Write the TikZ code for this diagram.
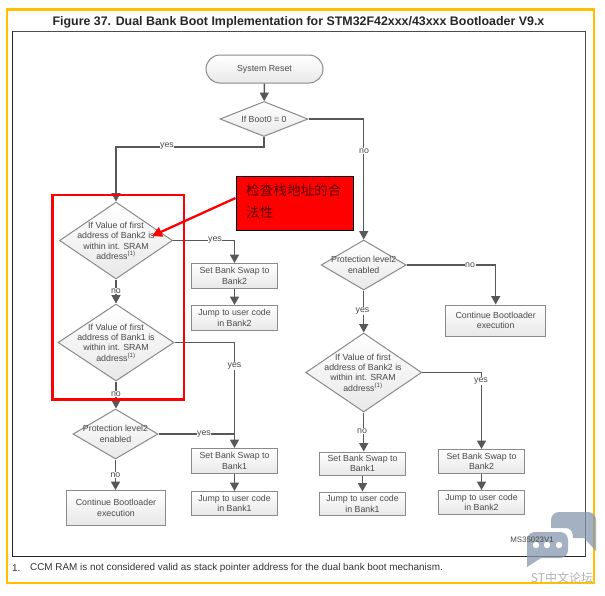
\documentclass[tikz,border=0pt]{standalone}
\usepackage{fontspec}
\setmainfont{Liberation Sans}
\newfontfamily\cjk{Noto Sans CJK SC}
\usetikzlibrary{shapes.geometric,arrows.meta}
\definecolor{linec}{HTML}{585858}
\definecolor{edgec}{HTML}{8A8A8A}
\definecolor{textc}{HTML}{4A4A4A}
\definecolor{framey}{HTML}{FFC000}
\definecolor{wm}{HTML}{8597AE}
\tikzset{
  x=1pt,y=-1pt,
  nodetxt/.style={font=\fontsize{8.8}{10.4}\selectfont,text=textc,align=center},
  shade/.style={top color=white,bottom color=black!9,draw=edgec,line width=1pt},
  flowbox/.style={shade,nodetxt,rectangle,inner sep=0pt},
  flowdia/.style={shade,diamond,inner sep=0pt},
  startbox/.style={shade,nodetxt,rectangle,rounded corners=14pt,inner sep=0pt,minimum width=117pt,minimum height=28pt},
  conn/.style={draw=linec,line width=1.5pt},
  arr/.style={conn,-{Triangle[length=8.5pt,width=9pt]}},
  lab/.style={nodetxt,fill=white,inner sep=0.6pt},
  redline/.style={draw=red,line width=2.4pt},
}
\begin{document}
\begin{tikzpicture}
\useasboundingbox (0,0) rectangle (605,595);
\fill[white] (0,0) rectangle (605,595);
% frames
\draw[framey,line width=2.2pt] (7,9.5) rectangle (594,583);
\draw[black!70,line width=1pt] (12.5,31) -- (585.5,31) -- (585.5,556.7);
\draw[black!85,line width=0.9pt] (12.5,31) -- (12.5,556.7) -- (585.5,556.7);
\node[font=\bfseries\fontsize{12.4}{14}\selectfont,text=black!85] (title) at (298.5,22.3) {Figure 37. Dual Bank Boot Implementation for STM32F42xxx/43xxx Bootloader V9.x};
% nodes
\node[startbox] (reset) at (264.5,69) {System Reset};
\node[flowdia,minimum width=88pt,minimum height=35pt] (boot) at (264,119) {};
\node[flowdia,minimum width=113pt,minimum height=77pt] (d1) at (116,240.5) {};
\node[flowdia,minimum width=116pt,minimum height=77pt] (d2) at (116,342.5) {};
\node[flowdia,minimum width=85pt,minimum height=50pt] (p1) at (115.5,434) {};
\node[flowdia,minimum width=85pt,minimum height=50pt] (p2) at (363.7,265) {};
\node[flowdia,minimum width=116pt,minimum height=79pt] (d3) at (363.7,372.5) {};
\node[flowbox,minimum width=86pt,minimum height=24.5pt] (sw2) at (234.5,275.8) {Set Bank Swap to\\Bank2};
\node[flowbox,minimum width=86pt,minimum height=25pt] (j2) at (234.5,318) {Jump to user code\\in Bank2};
\node[flowbox,minimum width=86pt,minimum height=25pt] (sw1) at (234.5,461) {Set Bank Swap to\\Bank1};
\node[flowbox,minimum width=86pt,minimum height=24pt] (j1) at (234.5,503.5) {Jump to user code\\in Bank1};
\node[flowbox,minimum width=98.5pt,minimum height=34.5pt] (cont1) at (116,507.8) {Continue Bootloader\\execution};
\node[flowbox,minimum width=99.5pt,minimum height=31pt] (cont2) at (495.7,320.5) {Continue Bootloader\\execution};
\node[flowbox,minimum width=86pt,minimum height=23pt] (rsw1) at (362.5,463.5) {Set Bank Swap to\\Bank1};
\node[flowbox,minimum width=86pt,minimum height=23.5pt] (rj1) at (362.5,503.8) {Jump to user code\\in Bank1};
\node[flowbox,minimum width=86pt,minimum height=24pt] (rsw2) at (481.5,461.5) {Set Bank Swap to\\Bank2};
\node[flowbox,minimum width=86pt,minimum height=23.5pt] (rj2) at (481.5,502.3) {Jump to user code\\in Bank2};
% diamond texts
\node[nodetxt] (tboot) at (boot) {If Boot0 = 0};
\node[nodetxt] (td1) at (116,241) {If Value of first\\address of Bank2 is\\within int. SRAM\\address\textsuperscript{(1)}};
\node[nodetxt] (td2) at (116,342.5) {If Value of first\\address of Bank1 is\\within int. SRAM\\address\textsuperscript{(1)}};
\node[nodetxt] (tp1) at (115.5,434) {Protection level2\\enabled};
\node[nodetxt] (tp2) at (363.7,265) {Protection level2\\enabled};
\node[nodetxt] (td3) at (363,372.5) {If Value of first\\address of Bank2 is\\within int. SRAM\\address\textsuperscript{(1)}};
% connectors
\draw[arr] (reset) -- (boot);
\draw[arr] (boot.south) -- ++(0,10) -| (d1.north);
\draw[arr] (boot.east) -| (p2.north);
\draw[arr] (p2.east) -| (cont2.north);
\draw[arr] (p2.south) -- (d3.north);
\draw[arr] (d3.east) -| (rsw2.north);
\draw[arr] (d3.south) -- (rsw1.north -| d3.south);
\draw[arr] (rsw1) -- (rj1);
\draw[arr] (rsw2) -- (rj2);
\draw[arr] (d1.east) -| (sw2.north);
\draw[arr] (sw2) -- (j2);
\draw[arr] (d1.south) -- (d2.north);
\draw[arr] (d2.east) -| (sw1.north);
\draw[arr] (d2.south) -- (p1.north -| d2.south);
\draw[conn] (p1.east) -- (p1.east -| sw1.north);
\draw[arr] (sw1) -- (j1);
\draw[arr] (p1.south) -- (cont1.north -| p1.south);
% connector labels
\node[lab] (l1) at (167,146) {yes};
\node[lab] (l2) at (364,151) {no};
\node[lab] (l3) at (215,240) {yes};
\node[lab] (l4) at (116,291) {no};
\node[lab] (l5) at (234.5,366) {yes};
\node[lab] (l6) at (116,394) {no};
\node[lab] (l7) at (204,434) {yes};
\node[lab] (l8) at (115.5,475) {no};
\node[lab] (l9) at (470,265) {no};
\node[lab] (l10) at (362.5,311) {yes};
\node[lab] (l11) at (481,381) {yes};
\node[lab] (l12) at (362,431) {no};
% annotation
\draw[redline] (52.5,195) rectangle (184,399.5);
\node[draw=black,line width=0.8pt,fill=red,minimum width=117pt,minimum height=53.5pt,inner sep=0pt] (note) at (294.5,203.3) {};
\node[font=\cjk\fontsize{13.6}{21.7}\selectfont,text=red!35!black,align=left,anchor=north west,inner sep=0pt] (notetxt) at (246,184) {检查栈地址的合\\法性};
\coordinate (tipc) at (152,236);
\draw[draw=red,line width=2.3pt,-{Triangle[length=10pt,width=10pt]}] (note.west |- 0,198) -- (tipc);
% footer
\node[font=\fontsize{9.9}{12}\selectfont,text=black!80,anchor=west,inner sep=0pt] (fn1) at (12,568) {1.};
\node[font=\fontsize{9.9}{12}\selectfont,text=black!80,anchor=west,inner sep=0pt] (fn) at (30,568) {CCM RAM is not considered valid as stack pointer address for the dual bank boot mechanism.};
% watermark
\fill[wm,fill opacity=0.75] (551,528) -- (551,520) arc[start angle=180,end angle=270,radius=8] -- (588,512) arc[start angle=270,end angle=360,radius=8] -- (596,551) -- (584,538) -- (573,538) .. controls (573,532) and (571,528) .. (565,528) -- cycle;
\fill[wm,fill opacity=0.75] (527,540) arc[start angle=180,end angle=270,radius=8] -- (560,532) arc[start angle=270,end angle=360,radius=8] -- (568,550) arc[start angle=0,end angle=90,radius=8] -- (541,558) -- (527,567) -- cycle;
\node[font=\fontsize{7.9}{10}\selectfont,text=textc] (mscode) at (532,540) {MS35023V1};
\fill[white] (536,545) circle[radius=3.2] (547,545) circle[radius=3.2] (559,545) circle[radius=3.2];
\node[font=\cjk\fontsize{12}{14}\selectfont,text=black!30] (wmt) at (562,578) {ST中文论坛};
\end{tikzpicture}
\end{document}
